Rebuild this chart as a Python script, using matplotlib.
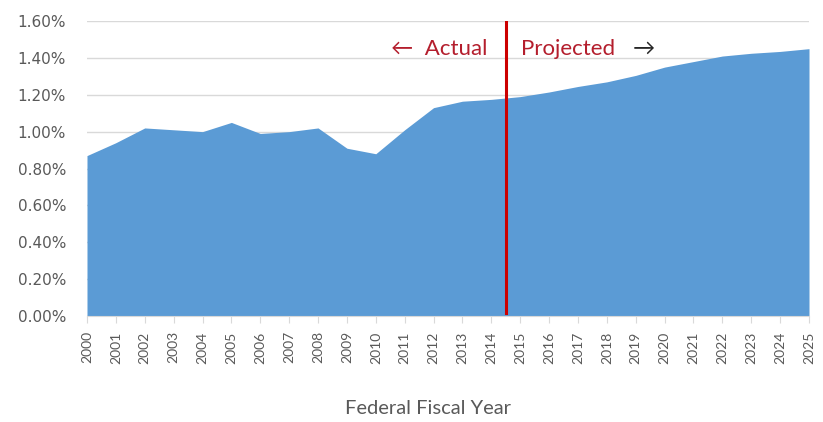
import matplotlib
matplotlib.use("Agg")
import matplotlib.pyplot as plt
from matplotlib.ticker import FuncFormatter

plt.rcParams['font.family'] = ['Lato', 'DejaVu Sans']

# share by federal fiscal year, actual through 2014, projected after
years = list(range(2000, 2026))
share = [0.87, 0.94, 1.02, 1.01, 1.00, 1.05, 0.99, 1.00, 1.02, 0.91,
         0.88, 1.01, 1.13, 1.165, 1.175, 1.19, 1.215, 1.245, 1.27, 1.305,
         1.35, 1.38, 1.41, 1.425, 1.435, 1.45]
split_year = 2014.5
y_ticks = [0.0, 0.2, 0.4, 0.6, 0.8, 1.0, 1.2, 1.4, 1.6]

fig = plt.figure(figsize=(8.23, 4.22), dpi=100)
ax = fig.add_axes([0.1057, 0.2512, 0.8773, 0.699])

ax.fill_between(years, share, 0, color='#5B9BD5', linewidth=0, zorder=2)
ax.axvline(split_year, ymin=0.01, ymax=1.0, color='#CC0000', lw=2.2, zorder=3)

ax.set_xlim(years[0], years[-1])
ax.set_ylim(0, 1.6)
ax.set_yticks(y_ticks)
ax.yaxis.set_major_formatter(FuncFormatter(lambda v, p: f"{v:.2f}%"))
ax.set_xticks(years)
ax.set_xticklabels([str(y) for y in years], rotation=90)
for lbl in ax.get_yticklabels():
    lbl.set_fontfamily('DejaVu Sans')

ax.grid(axis='y', color='#D9D9D9', lw=1, zorder=1)
for s in ['top', 'right', 'left']:
    ax.spines[s].set_visible(False)
ax.spines['bottom'].set_color('#D9D9D9')
ax.tick_params(axis='y', length=0, colors='#595959', labelsize=11, pad=15)
ax.tick_params(axis='x', length=5, color='#D9D9D9', colors='#595959', labelsize=10, pad=6)

xl = ax.set_xlabel('Federal Fiscal Year', color='#595959', fontsize=14.5)
xl.set_va('center')
ax.xaxis.set_label_coords(0.472, -0.312)

ax.text(2013.85, 1.45, '\u2190  Actual', color='#B41E2D', fontsize=16,
        ha='right', va='center')
ax.text(2015.03, 1.45, 'Projected', color='#B41E2D', fontsize=16,
        ha='left', va='center')
ax.text(2018.9, 1.45, '\u2192', color='#262626', fontsize=16,
        ha='left', va='center')

fig.savefig('out.png', dpi=100)
